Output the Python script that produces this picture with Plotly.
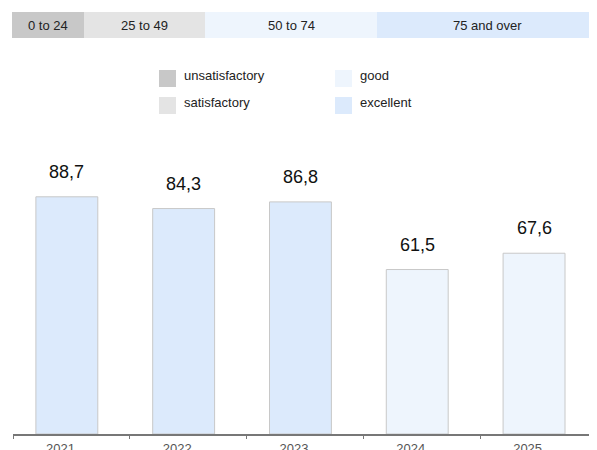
import plotly.graph_objects as go

years = ["2021", "2022", "2023", "2024", "2025"]
scores = [88.7, 84.3, 86.8, 61.5, 67.6]

band_labels = ["0 to 24", "25 to 49", "50 to 74", "75 and over"]
band_px = [(12, 84), (84, 205), (205, 377), (377, 597)]
rating_names = ["unsatisfactory", "satisfactory", "good", "excellent"]
rating_colors = ["#c8c8c8", "#e4e4e4", "#eef5fd", "#dceafc"]
thresholds = [0, 25, 50, 75]

def rating_index(v):
    idx = 0
    for i, t in enumerate(thresholds):
        if v >= t:
            idx = i
    return idx

bar_colors = [rating_colors[rating_index(v)] for v in scores]
labels = [f"{v:.1f}".replace(".", ",") for v in scores]

OFF = 8  # page body margin
W, H = 597 - OFF, 450 - OFF
# plot area in page pixels: x 13..597, y 150..434
L = 13 - OFF
R = 0
T = 150 - OFF
B = (450 - OFF) - (434 - OFF)
pw, ph = W - L - R, H - T - B

def px(x):  # page pixel -> paper
    return (x - OFF - L) / pw

def py(y):
    return (H - B - (y - OFF)) / ph

FONT = "Liberation Sans, Arial, Helvetica, sans-serif"

fig = go.Figure()
fig.add_trace(go.Bar(
    x=years, y=scores,
    width=0.53, offset=-0.304,
    marker=dict(color=bar_colors, line=dict(color="#c8c8c8", width=1)),
    hoverinfo="skip", showlegend=False,
))

shapes = []
annotations = []
for (x0, x1), lab, col in zip(band_px, band_labels, rating_colors):
    shapes.append(dict(type="rect", xref="paper", yref="paper",
                       x0=px(x0), x1=px(x1), y0=py(38), y1=py(12),
                       fillcolor=col, line=dict(width=0), layer="above"))
    annotations.append(dict(xref="paper", yref="paper", x=px((x0 + x1) / 2), y=py(25),
                            text=lab, showarrow=False, xanchor="center", yanchor="middle",
                            font=dict(family=FONT, size=13, color="#222")))
leg_pos = [(159, 70), (159, 97), (335, 70), (335, 97)]
for (lx, ly), name, col in zip(leg_pos, rating_names, rating_colors):
    shapes.append(dict(type="rect", xref="paper", yref="paper",
                       x0=px(lx), x1=px(lx + 17), y0=py(ly + 17), y1=py(ly),
                       fillcolor=col, line=dict(width=0), layer="above"))
    annotations.append(dict(xref="paper", yref="paper", x=px(lx + 23), y=py(ly + 5),
                            text=name, showarrow=False, xanchor="left", yanchor="middle",
                            font=dict(family=FONT, size=13, color="#222")))
for i, (v, t) in enumerate(zip(scores, labels)):
    annotations.append(dict(x=i, y=v, xref="x", yref="y", text=t, showarrow=False,
                            xshift=-4.5, yshift=25, yanchor="middle",
                            font=dict(family=FONT, size=18, color="#111")))

fig.update_layout(
    width=W, height=H,
    margin=dict(l=L, r=R, t=T, b=B),
    paper_bgcolor="white", plot_bgcolor="white",
    shapes=shapes, annotations=annotations,
    xaxis=dict(type="category", range=[-0.5, 4.5], tickson="boundaries",
               showline=True, linecolor="#777777", linewidth=2,
               ticks="outside", ticklen=3, tickcolor="#777777", tickwidth=1,
               tickfont=dict(family=FONT, size=13, color="#555"),
               ticklabelshift=-11, ticklabelstandoff=1,
               showgrid=False, zeroline=False, automargin=False, fixedrange=True),
    yaxis=dict(range=[0, 106.2], visible=False, showgrid=False, zeroline=False,
               automargin=False, fixedrange=True),
)

fig.write_html("out.html")
